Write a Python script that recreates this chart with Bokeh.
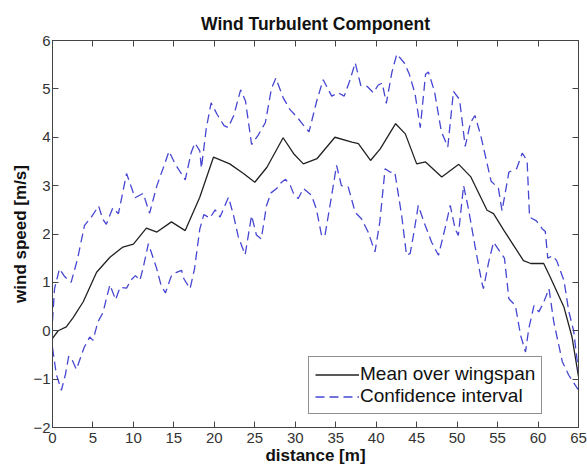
from bokeh.plotting import figure
from bokeh.models import LinearAxis, Legend, LegendItem, Title, FixedTicker, Range1d
from bokeh.embed import file_html
from bokeh.resources import INLINE

# ---- data ----
mean_x = [0.0, 0.7, 1.7, 2.55, 3.8, 5.45, 7.1, 8.7, 10.0, 11.6, 12.9, 14.7, 16.4, 18.2, 19.9,
          21.9, 23.6, 25.0, 26.5, 28.5, 29.8, 31.0, 32.7, 34.9, 37.0, 37.8, 39.3, 40.5, 42.4,
          43.6, 45.0, 46.1, 48.1, 50.2, 51.7, 53.7, 54.5, 55.8, 58.2, 59.1, 60.7, 61.5, 63.2,
          64.2, 65.0]
mean_y = [-0.16, 0.0, 0.08, 0.27, 0.6, 1.21, 1.52, 1.73, 1.79, 2.12, 2.04, 2.25, 2.07, 2.76, 3.59,
          3.45, 3.25, 3.07, 3.38, 3.99, 3.66, 3.45, 3.56, 4.0, 3.90, 3.87, 3.52, 3.76, 4.28,
          4.07, 3.45, 3.49, 3.18, 3.44, 3.18, 2.49, 2.42, 2.07, 1.45, 1.39, 1.39, 1.11, 0.49,
          -0.13, -0.95]

upper_x = [0.0, 0.25, 0.87, 1.5, 2.3, 3.1, 3.96, 4.8, 5.7, 6.2, 6.65, 7.45, 8.15, 9.15, 10.2,
           11.2, 12.0, 12.9, 13.65, 14.4, 15.15, 16.4, 17.15, 17.6, 18.2, 18.4, 19.0, 19.6,
           20.35, 21.2, 21.7, 22.4, 23.25, 23.85, 24.6, 25.4, 26.3, 27.05, 27.6, 28.5, 29.35,
           30.2, 31.15, 31.7, 32.65, 33.45, 34.5, 35.3, 36.05, 36.8, 37.4, 38.1, 38.9, 39.65,
           40.25, 40.75, 41.25, 41.95, 42.55, 43.5, 44.1, 44.8, 45.45, 46.1, 46.45, 47.2,
           48.05, 48.85, 49.55, 50.3, 51.0, 51.65, 52.2, 52.9, 54.2, 55.1, 55.55, 56.4, 57.35,
           58.05, 58.65, 58.95, 59.8, 60.5, 60.9, 61.2, 61.8, 62.3, 63.2, 63.8, 64.4, 65.0]
upper_y = [0.2, 0.87, 1.28, 1.12, 1.0, 1.49, 2.18, 2.35, 2.58, 2.31, 2.2, 2.54, 2.42, 3.25, 2.75,
           2.84, 2.43, 3.0, 3.35, 3.71, 3.45, 3.12, 3.69, 3.88, 3.72, 3.36, 4.18, 4.71,
           4.47, 4.24, 4.2, 4.45, 4.98, 4.75, 3.85, 4.04, 4.3, 5.0, 5.22, 4.82, 4.57,
           4.42, 4.22, 4.11, 4.75, 5.19, 4.85, 4.92, 4.85, 5.2, 5.54, 5.07, 5.05, 4.92,
           5.08, 5.12, 4.7, 5.35, 5.72, 5.53, 5.3, 4.9, 4.2, 5.3, 5.35, 4.95,
           4.12, 3.8, 4.95, 4.78, 3.81, 4.3, 4.45, 4.05, 3.09, 2.95, 2.48, 3.28, 3.35,
           3.67, 3.52, 2.35, 2.27, 2.11, 2.05, 1.5, 1.55, 1.45, 1.04, 0.4, 0.0, -0.85]

lower_x = [0.0, 0.47, 1.1, 1.6, 2.0, 2.3, 2.95, 3.9, 4.6, 5.0, 5.6, 6.25, 6.65, 7.1, 7.8, 8.35,
           9.15, 9.7, 10.25, 10.8, 11.2, 11.85, 12.85, 13.4, 13.95, 14.7, 15.25, 15.95, 16.25,
           17.0, 17.55, 18.2, 18.7, 19.45, 20.1, 20.7, 21.75, 22.35, 22.95, 23.8, 24.6, 25.2,
           25.8, 26.45, 27.0, 27.7, 28.3, 28.8, 29.4, 29.75, 30.35, 31.0, 32.0, 32.6, 33.25,
           33.65, 34.5, 35.1, 35.7, 36.55, 37.4, 38.2, 39.0, 39.85, 40.45, 41.1, 41.7, 42.3,
           43.15, 43.75, 44.2, 44.6, 45.2, 46.05, 46.85, 47.7, 48.5, 49.15, 49.75, 50.15, 50.8,
           51.4, 52.2, 53.05, 53.25, 53.9, 54.5, 55.3, 55.85, 56.4, 57.2, 57.85, 58.45, 58.85,
           59.5, 60.1, 60.7, 61.35, 61.95, 63.0, 63.8, 64.9, 65.0]
lower_y = [-0.35, -0.9, -1.23, -0.9, -0.53, -0.55, -0.8, -0.35, -0.13, -0.2, 0.18, 0.38, 0.66,
           0.95, 0.64, 0.9, 0.88, 1.05, 1.14, 1.04, 1.3, 1.8, 1.3, 0.95, 0.78, 1.14, 1.2, 1.25,
           1.07, 0.87, 1.28, 2.1, 2.4, 2.33, 2.5, 2.35, 2.76, 2.4, 1.95, 1.57, 2.38, 1.98,
           1.9, 2.59, 2.85, 2.94, 3.07, 3.13, 3.0, 2.85, 2.73, 2.94, 2.80, 2.52, 1.97,
           1.95, 2.80, 3.42, 3.0, 2.97, 2.45, 2.31, 2.04, 1.63, 2.25, 3.35, 3.28, 3.28,
           2.38, 1.56, 1.6, 1.97, 2.59, 2.18, 1.83, 1.56, 2.11, 2.59, 2.11, 1.97, 3.0,
           2.52, 1.76, 1.0, 0.87, 1.42, 1.83, 1.63, 1.5, 0.66, 0.52, -0.10, -0.44, 0.04,
           0.52, 0.39, 0.59, 0.87, 0.18, -0.64, -0.92, -1.2, -1.22]

x_ticks = [0, 5, 10, 15, 20, 25, 30, 35, 40, 45, 50, 55, 60, 65]
y_ticks = [-2, -1, 0, 1, 2, 3, 4, 5, 6]

FONT = "Liberation Sans"
AX = "#444444"
BLUE = "#4646d2"

p = figure(width=587, height=472, output_backend="svg", toolbar_location=None,
           x_range=Range1d(0, 65), y_range=Range1d(-2, 6),
           min_border_left=52, min_border_right=9, min_border_top=40, min_border_bottom=45,
           x_axis_location=None, y_axis_location=None)
p.grid.visible = False
p.outline_line_color = AX
p.background_fill_color = "white"
p.border_fill_color = "white"

p.title = Title(text="Wind Turbulent Component", align="center",
                text_font=FONT, text_font_size="17.5px", text_font_style="bold",
                text_color="#111111", offset=0, standoff=14)


def make_axis(ticks, labels=True, label=None):
    ax = LinearAxis(ticker=FixedTicker(ticks=ticks))
    ax.axis_line_color = AX
    ax.major_tick_line_color = AX
    ax.major_tick_in = 6
    ax.major_tick_out = 0
    ax.minor_tick_line_color = None
    ax.major_label_text_font = FONT
    ax.major_label_text_font_size = "15px"
    ax.major_label_text_color = "#333333"
    ax.major_label_standoff = 4
    if not labels:
        ax.major_label_text_font_size = "0px"
        ax.major_label_text_color = None
        ax.major_label_standoff = 0
    if label:
        ax.axis_label = label
        ax.axis_label_text_font = FONT
        ax.axis_label_text_font_size = "17px"
        ax.axis_label_text_font_style = "bold"
        ax.axis_label_text_color = "#111111"
    return ax


xb = make_axis(x_ticks, True, "distance [m]")
xb.axis_label_standoff = 0
xb.major_label_standoff = 5
yl = make_axis(y_ticks, True, "wind speed [m/s]")
yl.axis_label_standoff = 0
yl.major_label_standoff = 2
p.add_layout(xb, "below")
p.add_layout(yl, "left")
p.add_layout(make_axis(x_ticks, False), "above")
p.add_layout(make_axis(y_ticks, False), "right")

r_mean = p.line(mean_x, mean_y, line_color="#222222", line_width=1.3)
r_up = p.line(upper_x, upper_y, line_color=BLUE, line_width=1.3, line_dash="9 5")
p.line(lower_x, lower_y, line_color=BLUE, line_width=1.3, line_dash="9 5")

legend = Legend(items=[LegendItem(label="Mean over wingspan", renderers=[r_mean]),
                       LegendItem(label="Confidence interval", renderers=[r_up])],
                location=(256, 13))
legend.label_text_font = FONT
legend.label_text_font_size = "19px"
legend.label_text_color = "#111111"
legend.border_line_color = "#222222"
legend.border_line_width = 1
legend.glyph_width = 44
legend.glyph_height = 21
legend.label_height = 21
legend.label_standoff = 1
legend.padding = 6
legend.spacing = 0
legend.margin = 0
legend.background_fill_alpha = 1.0
p.add_layout(legend, "center")

open("out.html", "w").write(file_html(p, INLINE))
